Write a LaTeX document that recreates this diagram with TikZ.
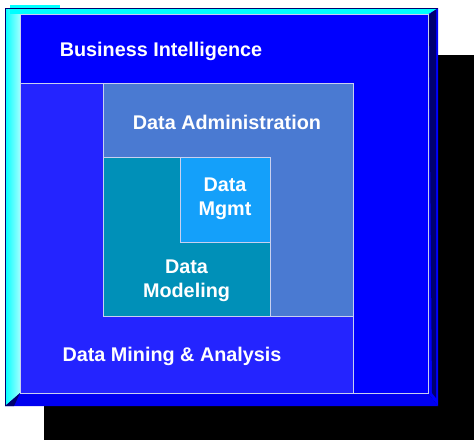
\documentclass[tikz,border=0pt]{standalone}
\usepackage{fontspec}
\setmainfont{Liberation Sans}
\definecolor{faceblue}{HTML}{0000FF}
\definecolor{minblue}{HTML}{2424FF}
\definecolor{admblue}{HTML}{4A7AD2}
\definecolor{modteal}{HTML}{0090B8}
\definecolor{mgmtblue}{HTML}{14A0FA}
\definecolor{edgeline}{HTML}{C8D0F0}
\definecolor{navy}{HTML}{000070}
\definecolor{cyanbev}{HTML}{00FFFF}
\definecolor{palecyan}{HTML}{A0FFFF}
\begin{document}
\begin{tikzpicture}[x=1pt,y=-1pt,
  region/.style={draw=edgeline,line width=1.3pt},
  lbl/.style={text=white,font=\bfseries\fontsize{19.8}{23.5}\selectfont,align=center,inner sep=0pt}]
\useasboundingbox (0,0) rectangle (474,440);
% shadow
\fill[black] (44,55) rectangle (474,440);
% bevels
\fill[faceblue!94!black] (5,406) -- (438,406) -- (428,393) -- (20,393) -- cycle;
\fill[faceblue] (438,8) -- (438,406) -- (428,393) -- (428,14) -- cycle;
\fill[navy] (429,15) -- (436,9) -- (436,398) -- (432,393) -- cycle;
\shade[left color=cyanbev,right color=palecyan] (5,8) -- (20,14) -- (20,393) -- (5,406) -- cycle;
\fill[cyanbev] (5,8) -- (438,8) -- (428,14) -- (20,14) -- cycle;
\fill[cyanbev] (10,5) rectangle (60,14);
\draw[navy,line width=1pt] (5,406) -- (5,8) -- (438,8);
\fill[navy] (5,406) -- (20,393) -- (14,406) -- cycle;
% face
\node[region,fill=faceblue,minimum width=408pt,minimum height=379pt,inner sep=0pt,anchor=north west] (face) at (20,14) {};
\node[region,fill=minblue,minimum width=333pt,minimum height=310pt,inner sep=0pt,anchor=north west] (mining) at (20,83) {};
\node[region,fill=admblue,minimum width=250pt,minimum height=233pt,inner sep=0pt,anchor=north west] (admin) at (103,83) {};
\node[region,fill=modteal,minimum width=167pt,minimum height=159pt,inner sep=0pt,anchor=north west] (model) at (103,157) {};
\node[region,fill=mgmtblue,minimum width=90pt,minimum height=85pt,inner sep=0pt,anchor=north west] (mgmt) at (180,157) {};
% labels
\node[lbl] (tbi) at (161,51.5) {Business Intelligence};
\node[lbl] (tda) at (227,122.5) {Data Administration};
\node[lbl] (tmg) at (225,199) {Data\\Mgmt};
\node[lbl] (tmo) at (186.5,281) {Data\\Modeling};
\node[lbl] (tmi) at (172,356.5) {Data Mining \& Analysis};
\end{tikzpicture}
\end{document}
